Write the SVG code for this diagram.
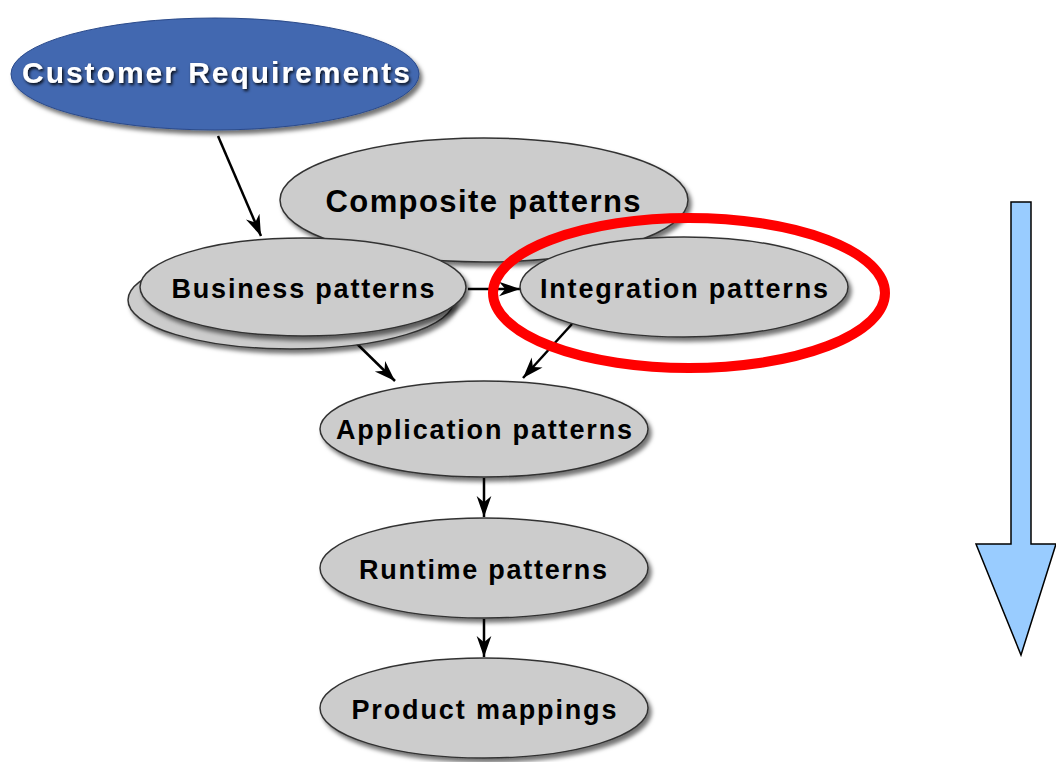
<svg xmlns="http://www.w3.org/2000/svg" width="1056" height="762" viewBox="0 0 1056 762">
<style>
.node{fill:#cccccc;stroke:#333333;stroke-width:1.5;filter:url(#sh)}
.lbl{font-family:"Liberation Sans",Arial,sans-serif;font-weight:bold;fill:#000;text-anchor:middle}
.conn{stroke:#000;stroke-width:2.5;fill:none;marker-end:url(#ah2)}
</style>
<defs>
<filter id="sh" x="-10%" y="-10%" width="125%" height="135%">
<feDropShadow dx="3" dy="4" stdDeviation="2" flood-color="#000" flood-opacity="0.55"/>
</filter>
<filter id="tsh" x="-5%" y="-30%" width="110%" height="170%">
<feDropShadow dx="1.5" dy="2" stdDeviation="1.5" flood-color="#000" flood-opacity="0.9"/>
</filter>
<marker id="ah2" viewBox="0 0 10 10" refX="10" refY="5" markerWidth="21" markerHeight="21" markerUnits="userSpaceOnUse" orient="auto">
<path d="M0,1.5 L10,5 L0,8.5 L3,5 z" fill="#000"/>
</marker>
</defs>
<rect width="1056" height="762" fill="#fff"/>

<g id="connectors">
<line class="conn" x1="218" y1="136" x2="261" y2="236"/>
<line class="conn" x1="350" y1="337" x2="395" y2="381"/>
<line class="conn" x1="572" y1="324" x2="523" y2="378"/>
<line class="conn" x1="468" y1="289" x2="520" y2="289"/>
<line class="conn" x1="484" y1="478" x2="484" y2="517"/>
<line class="conn" x1="484" y1="619" x2="484" y2="657"/>
</g>

<g id="customer">
<ellipse cx="215" cy="74" rx="204" ry="56" fill="#4267b0" stroke="#2a4a8a" stroke-width="1" filter="url(#sh)"/>
<text x="216" y="83" class="lbl" font-size="30" style="fill:#fff" textLength="388" lengthAdjust="spacing" filter="url(#tsh)">Customer Requirements</text>
</g>

<g id="composite">
<ellipse cx="484" cy="200" rx="204" ry="62" class="node"/>
<text x="483" y="212" class="lbl" font-size="31" textLength="315" lengthAdjust="spacing">Composite patterns</text>
</g>

<g id="business">
<ellipse cx="291" cy="300" rx="163" ry="49" class="node"/>
<ellipse cx="303" cy="287" rx="163" ry="49" class="node"/>
<text x="303" y="298" class="lbl" font-size="27" textLength="263" lengthAdjust="spacing">Business patterns</text>
</g>

<g id="integration">
<ellipse cx="684" cy="287" rx="164" ry="50" class="node"/>
<text x="684" y="298" class="lbl" font-size="27" textLength="288" lengthAdjust="spacing">Integration patterns</text>
</g>

<g id="highlight">
<ellipse cx="689" cy="293" rx="196" ry="75" fill="none" stroke="#ff0000" stroke-width="10"/>
</g>

<g id="application">
<ellipse cx="484" cy="429" rx="164" ry="48" class="node"/>
<text x="484" y="439" class="lbl" font-size="27" textLength="296" lengthAdjust="spacing">Application patterns</text>
</g>

<g id="runtime">
<ellipse cx="484" cy="568" rx="164" ry="50" class="node"/>
<text x="483" y="579" class="lbl" font-size="27" textLength="248" lengthAdjust="spacing">Runtime patterns</text>
</g>

<g id="product">
<ellipse cx="484" cy="708" rx="164" ry="50" class="node"/>
<text x="484" y="719" class="lbl" font-size="27" textLength="265" lengthAdjust="spacing">Product mappings</text>
</g>

<g id="flow-arrow">
<path d="M1011,202 L1031,202 L1031,544 L1056,544 L1021,655 L976,544 L1011,544 Z" fill="#99ccff" stroke="#000" stroke-width="1.5"/>
</g>
</svg>
